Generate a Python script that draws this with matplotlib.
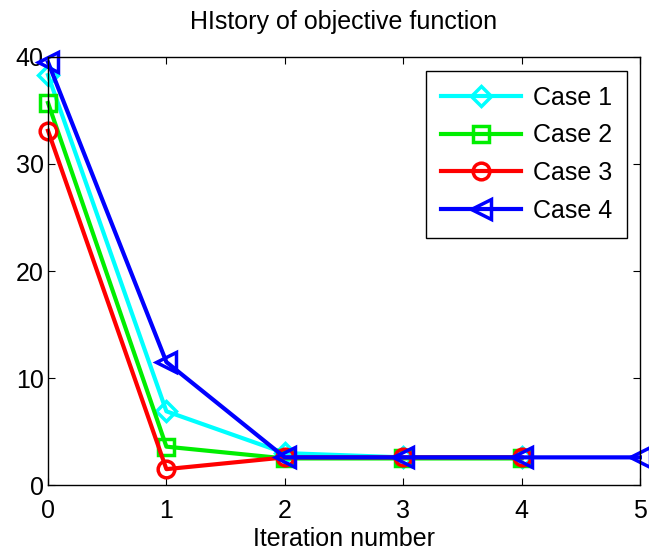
import matplotlib.pyplot as plt

plt.rcParams['font.family'] = ['Liberation Sans', 'DejaVu Sans']

iters = [0, 1, 2, 3, 4, 5]
case1 = [38.3, 6.9, 3.0, 2.6, 2.6]
case2 = [35.7, 3.6, 2.5, 2.5, 2.5]
case3 = [33.1, 1.5, 2.6, 2.6, 2.6]
case4 = [39.5, 11.5, 2.6, 2.6, 2.6, 2.6]

fig = plt.figure(figsize=(6.49, 5.52), dpi=100)
ax = fig.add_axes([0.074, 0.121, 0.912, 0.776])

lw = 3
ms = 12
ax.plot(iters[:len(case1)], case1, color="cyan", marker="D", ms=ms - 2, mfc="none", mew=2.5, lw=lw, label="Case 1", clip_on=False)
ax.plot(iters[:len(case2)], case2, color="#00ee00", marker="s", ms=ms, mfc="none", mew=2.5, lw=lw, label="Case 2", clip_on=False)
ax.plot(iters[:len(case3)], case3, color="red", marker="o", ms=ms, mfc="none", mew=2.5, lw=lw, label="Case 3", clip_on=False)
ax.plot(iters[:len(case4)], case4, color="blue", marker="<", ms=ms + 2, mfc="none", mew=2.5, lw=lw, label="Case 4", clip_on=False)

ax.set_xlim(0, 5)
ax.set_ylim(0, 40)
ax.set_xticks(iters)
ax.set_yticks([0, 10, 20, 30, 40])
ax.tick_params(direction="in", top=True, right=True, labelsize=18, length=5)
ax.tick_params(axis="x", pad=10)
ax.tick_params(axis="y", pad=3)
for s in ax.spines.values():
    s.set_linewidth(1)

ax.set_title("HIstory of objective function", fontsize=18, pad=20)
ax.set_xlabel("Iteration number", fontsize=18, labelpad=3)

leg = ax.legend(loc="upper right", fontsize=18, fancybox=False, edgecolor="black",
                framealpha=1, handlelength=3.2, borderpad=0.6, labelspacing=0.55,
                handletextpad=0.5, borderaxespad=0, bbox_to_anchor=(0.979, 0.968))
leg.get_frame().set_linewidth(1)

plt.savefig("out.png", dpi=100)
